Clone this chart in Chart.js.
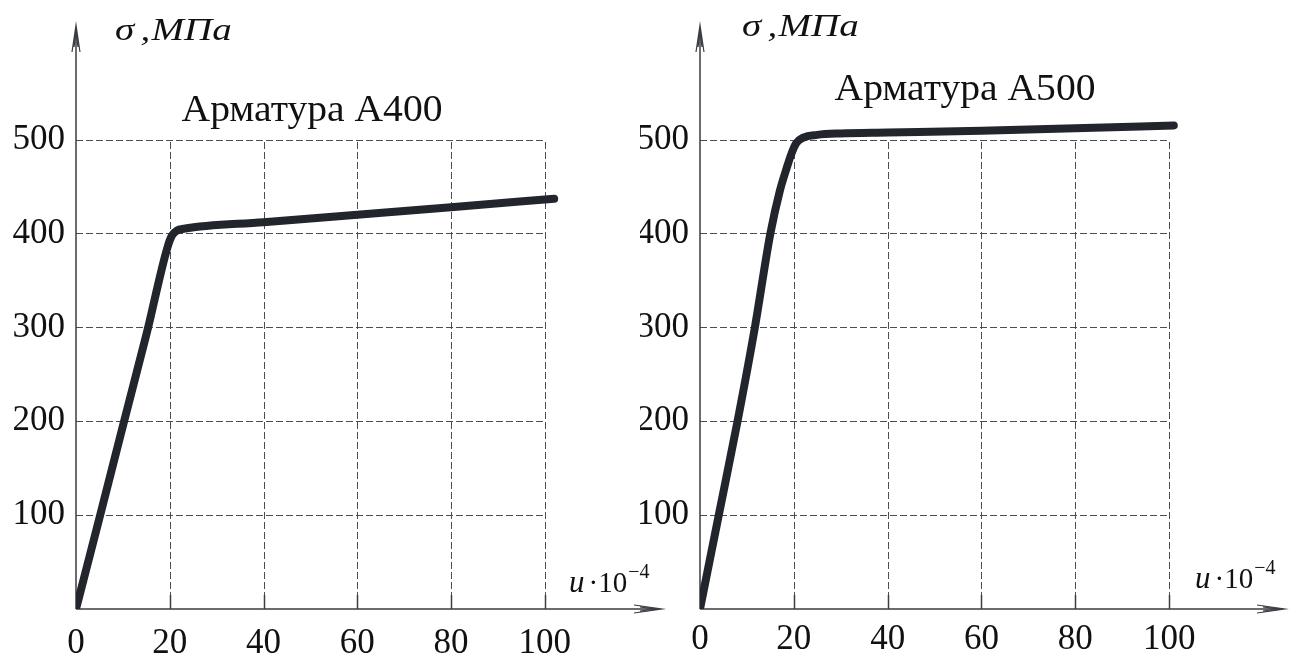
<!DOCTYPE html>
<html>
<head>
<meta charset="utf-8">
<script src="https://cdn.jsdelivr.net/npm/chart.js@4.4.1/dist/chart.umd.min.js"></script>
<style>
  html, body { margin: 0; padding: 0; background: #fff; }
  body { width: 1289px; height: 658px; position: relative; overflow: hidden; font-family: "Liberation Serif", serif; }
  canvas { position: absolute; top: 0; }
</style>
</head>
<body>
<canvas id="chartA400" width="680" height="658" style="left:0"></canvas>
<canvas id="chartA500" width="649" height="658" style="left:640px"></canvas>
<script>
// strain u*10^-4 and stress sigma, MPa
const uA400 = [0, 5, 10, 15, 19.5, 20.5, 21.5, 23, 40, 60, 80, 102];
const sA400 = [0, 97, 195, 292, 385, 398, 403, 405, 412, 420, 428, 437];

const uA500 = [0, 4, 8, 11.7, 15, 17, 18.5, 19.5, 20.5, 22, 25, 30, 40, 60, 80, 101];
const sA500 = [0, 100, 200, 300, 400, 445, 470, 485, 496, 502, 505, 506.5, 507.5, 509.5, 512, 515];

const xTicks = [0, 20, 40, 60, 80, 100];
const yTicks = [100, 200, 300, 400, 500];

const titleA400 = 'Арматура А400';
const titleA500 = 'Арматура А500';

const INK = '#3a3d42';
const TEXT = '#111';
const SERIF = '"Liberation Serif", "Times New Roman", serif';

// axes with arrows, dashed grid only inside 0..100 x 0..500, captions
const axesPlugin = {
    id: 'axesPlugin',
    beforeDatasetsDraw(chart, args, o) {
        const ctx = chart.ctx;
        const xs = chart.scales.x, ys = chart.scales.y;
        const x0 = xs.getPixelForValue(0), y0 = ys.getPixelForValue(0);
        const xEnd = xs.getPixelForValue(xTicks[xTicks.length - 1]);
        const yEnd = ys.getPixelForValue(yTicks[yTicks.length - 1]);
        ctx.save();

        // dashed grid
        ctx.strokeStyle = '#4a4d52';
        ctx.lineWidth = 1;
        ctx.setLineDash([7, 3]);
        yTicks.forEach(v => {
            const y = Math.round(ys.getPixelForValue(v)) + 0.5;
            ctx.beginPath(); ctx.moveTo(x0, y); ctx.lineTo(xEnd, y); ctx.stroke();
        });
        xTicks.slice(1).forEach(v => {
            const x = Math.round(xs.getPixelForValue(v)) + 0.5;
            ctx.beginPath(); ctx.moveTo(x, y0); ctx.lineTo(x, yEnd); ctx.stroke();
        });
        ctx.setLineDash([]);

        // solid tick stubs on x axis
        ctx.strokeStyle = INK;
        ctx.lineWidth = 1.5;
        xTicks.slice(1).forEach(v => {
            const x = Math.round(xs.getPixelForValue(v)) + 0.5;
            ctx.beginPath(); ctx.moveTo(x, y0); ctx.lineTo(x, y0 - 14); ctx.stroke();
        });

        // axes
        const top = chart.chartArea.top, right = chart.chartArea.right;
        ctx.beginPath();
        ctx.moveTo(x0, y0); ctx.lineTo(x0, top + 2);
        ctx.moveTo(x0, y0); ctx.lineTo(right - 2, y0);
        ctx.stroke();

        // arrow heads (double thin strokes)
        ctx.lineWidth = 1.2;
        ctx.beginPath();
        ctx.moveTo(x0 - 4, top + 27); ctx.lineTo(x0, top); ctx.lineTo(x0 + 4, top + 27);
        ctx.moveTo(x0 - 2, top + 22); ctx.lineTo(x0, top + 8); ctx.lineTo(x0 + 2, top + 22);
        ctx.moveTo(right - 28, y0 - 4); ctx.lineTo(right, y0); ctx.lineTo(right - 28, y0 + 4);
        ctx.moveTo(right - 22, y0 - 2); ctx.lineTo(right - 8, y0); ctx.lineTo(right - 22, y0 + 2);
        ctx.stroke();
        ctx.restore();
    },
    afterDraw(chart, args, o) {
        const ctx = chart.ctx;
        ctx.save();
        ctx.fillStyle = TEXT;
        ctx.textBaseline = 'alphabetic';

        // chart title (source text is slightly wide)
        ctx.save();
        ctx.translate(o.titleX, o.titleY);
        ctx.scale(1.07, 1);
        ctx.font = '37px ' + SERIF;
        ctx.textAlign = 'center';
        ctx.fillText(o.title, 0, 0);
        ctx.restore();

        // y caption: sigma, MPa (italic, wide spacing)
        ctx.textAlign = 'left';
        ctx.save();
        ctx.translate(o.sigX, o.sigY);
        ctx.scale(1.22, 1);
        ctx.font = 'italic 32px ' + SERIF;
        ctx.fillText('σ', 0, 0);
        ctx.fillText(',', 21, 0);
        ctx.fillText('МПа', 30, 0);
        ctx.restore();

        // x caption: u·10^-4
        let x = o.uX;
        ctx.font = 'italic 31px ' + SERIF;
        ctx.fillText('u', x, o.uY);
        x += ctx.measureText('u').width + 4;
        ctx.font = '29px ' + SERIF;
        ctx.fillText('·10', x, o.uY);
        x += ctx.measureText('·10').width + 1;
        ctx.font = '20px ' + SERIF;
        ctx.fillText('−4', x, o.uY - 14);
        ctx.restore();
    }
};

function makeChart(canvasId, u, s, opts) {
    const ctx = document.getElementById(canvasId).getContext('2d');
    return new Chart(ctx, {
        type: 'line',
        data: {
            datasets: [{
                data: u.map((v, i) => ({ x: v, y: s[i] })),
                borderColor: '#22262c',
                borderWidth: 8,
                borderCapStyle: 'round',
                borderJoinStyle: 'round',
                cubicInterpolationMode: 'monotone',
                pointRadius: 0,
                fill: false
            }]
        },
        options: {
            responsive: false,
            animation: false,
            layout: { padding: { left: 0, top: opts.padTop, right: opts.padRight, bottom: 0 } },
            plugins: {
                legend: { display: false },
                tooltip: { enabled: false },
                axesPlugin: opts
            },
            scales: {
                x: {
                    type: 'linear',
                    min: 0,
                    max: opts.xMax,
                    afterBuildTicks: sc => { sc.ticks = xTicks.map(v => ({ value: v })); },
                    afterFit: sc => { sc.height = 49; sc.paddingLeft = 0; sc.paddingRight = 0; },
                    grid: { display: false, drawTicks: false },
                    border: { display: false },
                    ticks: {
                        color: TEXT,
                        padding: opts.xPad,
                        maxRotation: 0,
                        autoSkip: false,
                        font: { size: 35, family: SERIF }
                    }
                },
                y: {
                    type: 'linear',
                    min: 0,
                    max: 622,
                    afterBuildTicks: sc => { sc.ticks = yTicks.map(v => ({ value: v })); },
                    afterFit: sc => { sc.width = opts.yWidth; sc.paddingTop = 0; sc.paddingBottom = 0; },
                    grid: { display: false, drawTicks: false },
                    border: { display: false },
                    ticks: {
                        color: TEXT,
                        padding: 11,
                        font: { size: 35, family: SERIF }
                    }
                }
            }
        },
        plugins: [axesPlugin]
    });
}

function drawAll() {
    makeChart('chartA400', uA400, sA400, {
        title: titleA400, titleX: 312, titleY: 121,
        sigX: 115, sigY: 40,
        uX: 569, uY: 592,
        yWidth: 76, padTop: 25, padRight: 18, xMax: 125, xPad: 14
    });

    makeChart('chartA500', uA500, sA500, {
        title: titleA500, titleX: 965 - 640, titleY: 100,
        sigX: 742 - 640, sigY: 36,
        uX: 1195 - 640, uY: 588,
        yWidth: 60, padTop: 25, padRight: 4, xMax: 124.7, xPad: 10
    });
}

Promise.all([
    document.fonts.load('35px "Liberation Serif"'),
    document.fonts.load('italic 30px "Liberation Serif"')
]).then(drawAll, drawAll);
</script>
</body>
</html>
